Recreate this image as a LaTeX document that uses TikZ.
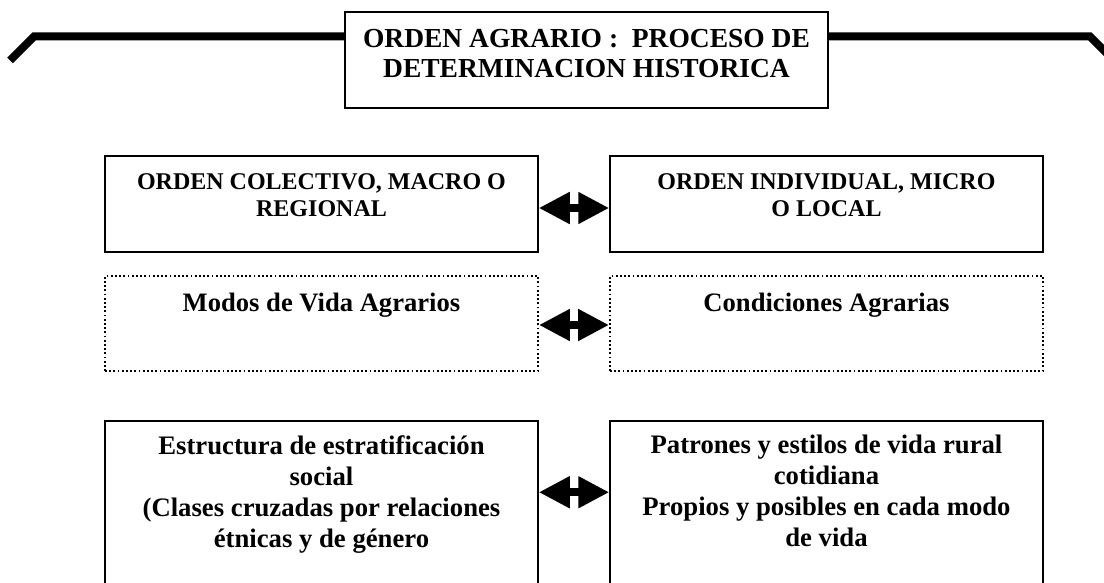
\documentclass[tikz,border=0pt]{standalone}
\usepackage{fontspec}
\setmainfont{Liberation Serif}
\usetikzlibrary{positioning,arrows.meta}
\tikzset{
  frame/.style={draw,line width=1.5pt,minimum width=433pt,minimum height=96pt,inner sep=0pt},
  dotframe/.style={frame,line width=1.8pt,dash pattern=on 1.8pt off 2.4pt,minimum height=95pt},
  txt/.style={align=center,inner sep=0pt,font=\bfseries},
  twoway/.style={line width=8pt,{Triangle[length=31pt,width=30pt]}-{Triangle[length=31pt,width=30pt]}}
}
\begin{document}
\begin{tikzpicture}[x=1pt,y=-1pt]
      \useasboundingbox (0,0) rectangle (1104,583);
      \node [frame,minimum width=483pt] (0) at (586.5,60) {};
      \node [txt,below=18pt of 0.north,font=\bfseries\fontsize{27.5}{30}\selectfont] (0t)
        {ORDEN AGRARIO :\ \ PROCESO DE\\DETERMINACION HISTORICA};
      \coordinate (l1) at (34,36.5);
      \coordinate (l2) at (10,60.5);
      \coordinate (r1) at (1090,36.5);
      \coordinate (r2) at (1110,56.5);
      \draw [line width=8pt] (0.west |- l1) -- (l1) -- (l2);
      \draw [line width=8pt] (0.east |- r1) -- (r1) -- (r2);

      \node [frame] (1) at (321.5,204) {};
      \node [frame] (2) at (826.5,204) {};
      \node [txt,below=18pt of 1.north,font=\bfseries\fontsize{24}{27}\selectfont] (1t)
        {ORDEN COLECTIVO, MACRO O\\REGIONAL};
      \node [txt,below=18pt of 2.north,font=\bfseries\fontsize{24}{27}\selectfont] (2t)
        {ORDEN INDIVIDUAL, MICRO\\O LOCAL};

      \node [dotframe] (3) at (321.5,323.5) {};
      \node [dotframe] (4) at (826.5,323.5) {};
      \node [txt,below=18pt of 3.north,font=\bfseries\fontsize{26.6}{30}\selectfont] (3t)
        {Modos de Vida Agrarios};
      \node [txt,below=18pt of 4.north,font=\bfseries\fontsize{26.6}{30}\selectfont] (4t)
        {Condiciones Agrarias};

      \node [frame,minimum height=180pt] (5) at (321.5,511) {};
      \node [frame,minimum height=180pt] (6) at (826.5,511) {};
      \node [txt,below=15pt of 5.north,font=\bfseries\fontsize{26.7}{31}\selectfont] (5t)
        {Estructura de estratificación\\social\\(Clases cruzadas por relaciones\\étnicas y de género};
      \node [txt,below=15pt of 6.north,font=\bfseries\fontsize{26.7}{31}\selectfont] (6t)
        {Patrones y estilos de vida rural\\cotidiana\\Propios y posibles en cada modo\\de vida};

      \draw [twoway] ([yshift=-4pt]1.east) -- ([yshift=-4pt]2.west);
      \draw [twoway] ([yshift=-1.5pt]3.east) -- ([yshift=-1.5pt]4.west);
      \draw [twoway] ([yshift=-72pt]5.north east) -- ([yshift=-72pt]6.north west);
    \end{tikzpicture}
\end{document}
